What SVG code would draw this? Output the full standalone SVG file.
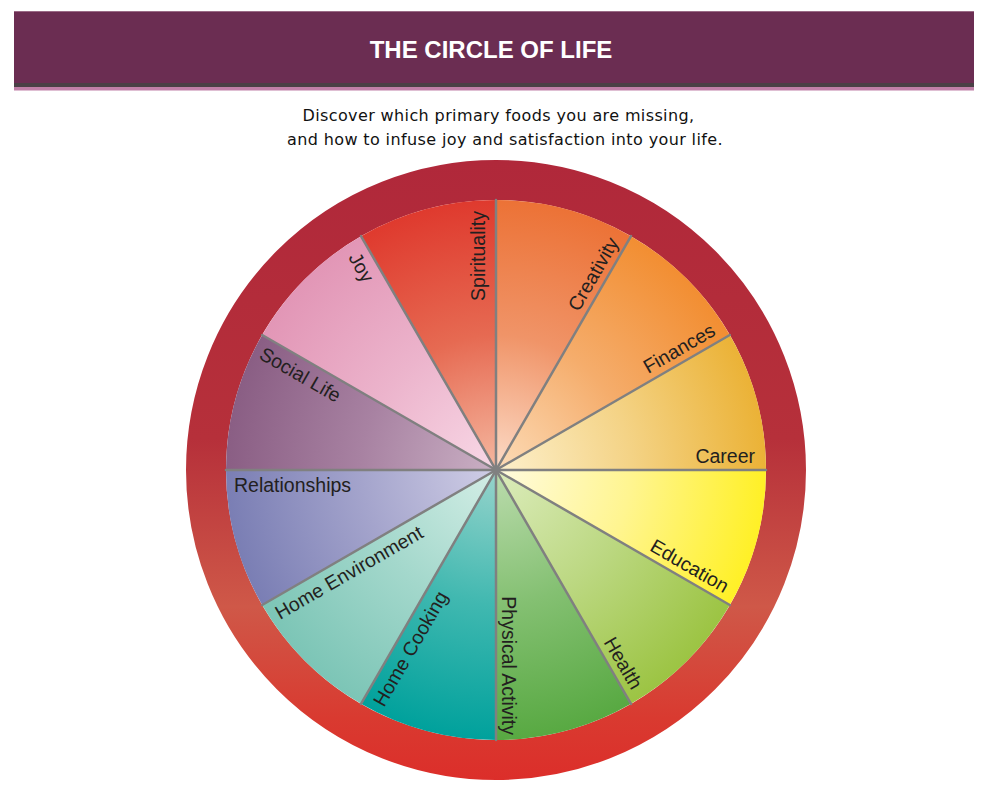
<svg xmlns="http://www.w3.org/2000/svg" width="995" height="805" viewBox="0 0 995 805">
  <style>
    .lbl { font-family: "Liberation Sans", Arial, sans-serif; font-size: 19.5px; fill: #231f20; }
    .rt { text-anchor: end; }
    .lt { text-anchor: start; }
    .sub { font-family: "DejaVu Sans", Verdana, sans-serif; font-size: 16px; letter-spacing: 0.38px; fill: #111; text-anchor: middle; }
    .div { stroke: #808080; stroke-width: 2.5; stroke-linecap: round; }
  </style>
  <defs>
    <linearGradient id="ring" gradientUnits="userSpaceOnUse" x1="0" y1="160" x2="0" y2="780">
      <stop offset="0" stop-color="#b0283a"/>
      <stop offset="0.45" stop-color="#b6303a"/>
      <stop offset="0.72" stop-color="#cf5848"/>
      <stop offset="0.9" stop-color="#d93a30"/>
      <stop offset="1" stop-color="#dc2e2a"/>
    </linearGradient>
    <radialGradient id="gSpi" gradientUnits="userSpaceOnUse" cx="496" cy="470" r="270"><stop offset="0" stop-color="#f5b8a0"/><stop offset="0.5" stop-color="#e66a52"/><stop offset="1" stop-color="#df3a2e"/></radialGradient>
    <radialGradient id="gCre" gradientUnits="userSpaceOnUse" cx="496" cy="470" r="270"><stop offset="0" stop-color="#fcdcc8"/><stop offset="0.5" stop-color="#f09468"/><stop offset="1" stop-color="#ec7236"/></radialGradient>
    <radialGradient id="gFin" gradientUnits="userSpaceOnUse" cx="496" cy="470" r="270"><stop offset="0" stop-color="#fcdcb8"/><stop offset="0.5" stop-color="#f5ad6c"/><stop offset="1" stop-color="#f28e32"/></radialGradient>
    <radialGradient id="gCar" gradientUnits="userSpaceOnUse" cx="496" cy="470" r="270"><stop offset="0" stop-color="#fdf0cc"/><stop offset="0.5" stop-color="#f4d386"/><stop offset="1" stop-color="#ebb236"/></radialGradient>
    <radialGradient id="gEdu" gradientUnits="userSpaceOnUse" cx="496" cy="470" r="270"><stop offset="0" stop-color="#fffbe0"/><stop offset="0.5" stop-color="#fff590"/><stop offset="1" stop-color="#fff026"/></radialGradient>
    <radialGradient id="gHea" gradientUnits="userSpaceOnUse" cx="496" cy="470" r="270"><stop offset="0" stop-color="#dcecbc"/><stop offset="0.5" stop-color="#bcd882"/><stop offset="1" stop-color="#9cc443"/></radialGradient>
    <radialGradient id="gPhy" gradientUnits="userSpaceOnUse" cx="496" cy="470" r="270"><stop offset="0" stop-color="#bcdcae"/><stop offset="0.5" stop-color="#84c072"/><stop offset="1" stop-color="#58a942"/></radialGradient>
    <radialGradient id="gCoo" gradientUnits="userSpaceOnUse" cx="496" cy="470" r="270"><stop offset="0" stop-color="#98d4cc"/><stop offset="0.5" stop-color="#40b8b0"/><stop offset="1" stop-color="#00a19c"/></radialGradient>
    <radialGradient id="gEnv" gradientUnits="userSpaceOnUse" cx="496" cy="470" r="270"><stop offset="0" stop-color="#d4eee6"/><stop offset="0.5" stop-color="#a4d8cc"/><stop offset="1" stop-color="#7cc5b6"/></radialGradient>
    <radialGradient id="gRel" gradientUnits="userSpaceOnUse" cx="496" cy="470" r="270"><stop offset="0" stop-color="#d0cee6"/><stop offset="0.5" stop-color="#a4a4cc"/><stop offset="1" stop-color="#7a7eb4"/></radialGradient>
    <radialGradient id="gSoc" gradientUnits="userSpaceOnUse" cx="496" cy="470" r="270"><stop offset="0" stop-color="#cab0c4"/><stop offset="0.5" stop-color="#a882a2"/><stop offset="1" stop-color="#8a5e84"/></radialGradient>
    <radialGradient id="gJoy" gradientUnits="userSpaceOnUse" cx="496" cy="470" r="270"><stop offset="0" stop-color="#f8d8e6"/><stop offset="0.5" stop-color="#ecb4cc"/><stop offset="1" stop-color="#e296b6"/></radialGradient>
  </defs>

  <rect width="995" height="805" fill="#ffffff"/>

  <g id="header">
    <rect x="14" y="11" width="960" height="73" fill="#6b2d52"/>
    <rect x="14" y="11" width="960" height="1" fill="#9a6a86"/>
    <rect x="14" y="83" width="960" height="4" fill="#4a4046"/>
    <rect x="14" y="87" width="960" height="3.5" fill="#c080a8"/>
    <text x="491" y="58" font-family="'Liberation Sans', Arial, sans-serif" font-size="24" font-weight="bold" fill="#ffffff" text-anchor="middle">THE CIRCLE OF LIFE</text>
  </g>

  <g id="subtitle">
    <text class="sub" x="498.5" y="121">Discover which primary foods you are missing,</text>
    <text class="sub" x="505" y="145">and how to infuse joy and satisfaction into your life.</text>
  </g>

  <g id="ring-outer">
    <circle cx="496" cy="470" r="290" fill="none" stroke="url(#ring)" stroke-width="40"/>
  </g>

  <g id="spirituality">
    <path d="M496,470 L361,236.17 A270,270 0 0,1 496,200 Z" fill="url(#gSpi)"/>
    <text class="lbl rt" transform="translate(496,470) rotate(-90)" x="259" y="-11">Spirituality</text>
  </g>
  <g id="creativity">
    <path d="M496,470 L496,200 A270,270 0 0,1 631,236.17 Z" fill="url(#gCre)"/>
    <text class="lbl rt" transform="translate(496,470) rotate(-60)" x="259" y="-7">Creativity</text>
  </g>
  <g id="finances">
    <path d="M496,470 L631,236.17 A270,270 0 0,1 729.83,335 Z" fill="url(#gFin)"/>
    <text class="lbl rt" transform="translate(496,470) rotate(-30)" x="259" y="-7">Finances</text>
  </g>
  <g id="career">
    <path d="M496,470 L729.83,335 A270,270 0 0,1 766,470 Z" fill="url(#gCar)"/>
    <text class="lbl rt" transform="translate(496,470)" x="259" y="-7">Career</text>
  </g>
  <g id="education">
    <path d="M496,470 L766,470 A270,270 0 0,1 729.83,605 Z" fill="url(#gEdu)"/>
    <text class="lbl rt" transform="translate(496,470) rotate(30)" x="259" y="-7">Education</text>
  </g>
  <g id="health">
    <path d="M496,470 L729.83,605 A270,270 0 0,1 631,703.83 Z" fill="url(#gHea)"/>
    <text class="lbl rt" transform="translate(496,470) rotate(60)" x="259" y="-7">Health</text>
  </g>
  <g id="physical-activity">
    <path d="M496,470 L631,703.83 A270,270 0 0,1 496,740 Z" fill="url(#gPhy)"/>
    <text class="lbl rt" transform="translate(496,470) rotate(90)" x="265" y="-6">Physical Activity</text>
  </g>
  <g id="home-cooking">
    <path d="M496,470 L496,740 A270,270 0 0,1 361,703.83 Z" fill="url(#gCoo)"/>
    <text class="lbl lt" transform="translate(496,470) rotate(-60)" x="-262" y="22">Home Cooking</text>
  </g>
  <g id="home-environment">
    <path d="M496,470 L361,703.83 A270,270 0 0,1 262.17,605 Z" fill="url(#gEnv)"/>
    <text class="lbl lt" transform="translate(496,470) rotate(-30)" x="-262" y="22">Home Environment</text>
  </g>
  <g id="relationships">
    <path d="M496,470 L262.17,605 A270,270 0 0,1 226,470 Z" fill="url(#gRel)"/>
    <text class="lbl lt" transform="translate(496,470)" x="-262" y="22">Relationships</text>
  </g>
  <g id="social-life">
    <path d="M496,470 L226,470 A270,270 0 0,1 262.17,335 Z" fill="url(#gSoc)"/>
    <text class="lbl lt" transform="translate(496,470) rotate(30)" x="-262" y="22">Social Life</text>
  </g>
  <g id="joy">
    <path d="M496,470 L262.17,335 A270,270 0 0,1 361,236.17 Z" fill="url(#gJoy)"/>
    <text class="lbl lt" transform="translate(496,470) rotate(60)" x="-258" y="22">Joy</text>
  </g>

  <g id="connectors">
    <line class="div" x1="496" y1="470" x2="496" y2="200"/>
    <line class="div" x1="496" y1="470" x2="631" y2="236.17"/>
    <line class="div" x1="496" y1="470" x2="729.83" y2="335"/>
    <line class="div" x1="496" y1="470" x2="766" y2="470"/>
    <line class="div" x1="496" y1="470" x2="729.83" y2="605"/>
    <line class="div" x1="496" y1="470" x2="631" y2="703.83"/>
    <line class="div" x1="496" y1="470" x2="496" y2="740"/>
    <line class="div" x1="496" y1="470" x2="361" y2="703.83"/>
    <line class="div" x1="496" y1="470" x2="262.17" y2="605"/>
    <line class="div" x1="496" y1="470" x2="226" y2="470"/>
    <line class="div" x1="496" y1="470" x2="262.17" y2="335"/>
    <line class="div" x1="496" y1="470" x2="361" y2="236.17"/>
  </g>
</svg>
